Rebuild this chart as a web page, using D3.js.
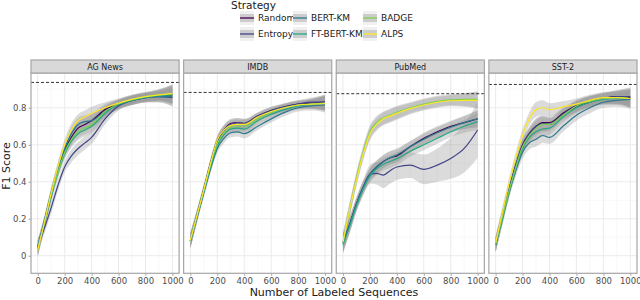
<!DOCTYPE html>
<html>
<head>
<meta charset="utf-8">
<script src="https://cdn.jsdelivr.net/npm/d3@7"></script>
<style>
body{margin:0;background:#fff;}
svg text{font-family:"DejaVu Sans",sans-serif;}
</style>
</head>
<body>
<div id="chart"></div>
<script>
// data
var strategies=["Random","Entropy","BERT-KM","FT-BERT-KM","BADGE","ALPS"];
var colors=["#440154","#414487","#2A788E","#22A884","#7AD151","#FDE725"];
var datasets=["AG News","IMDB","PubMed","SST-2"];
var ceilings=[0.937,0.883,0.876,0.926];
var sizes=[0,50,100,150,200,250,300,350,400,500,600,700,800,900,1000];

var agNews=[
[0.04,0.18,0.33,0.46,0.57,0.64,0.69,0.71,0.73,0.79,0.82,0.84,0.855,0.865,0.87],
[0.05,0.15,0.26,0.38,0.48,0.54,0.58,0.61,0.64,0.74,0.81,0.84,0.855,0.86,0.855],
[0.05,0.19,0.34,0.47,0.58,0.66,0.71,0.725,0.73,0.78,0.815,0.84,0.855,0.86,0.86],
[0.04,0.18,0.32,0.45,0.55,0.62,0.66,0.68,0.70,0.77,0.82,0.84,0.855,0.865,0.87],
[0.04,0.18,0.33,0.45,0.56,0.63,0.67,0.69,0.71,0.78,0.82,0.845,0.86,0.87,0.875],
[0.03,0.18,0.34,0.48,0.60,0.68,0.73,0.75,0.77,0.80,0.825,0.845,0.86,0.87,0.877]];
var imdb=[
[0.08,0.22,0.36,0.50,0.62,0.68,0.715,0.72,0.715,0.755,0.785,0.805,0.82,0.825,0.83],
[0.08,0.22,0.36,0.50,0.62,0.68,0.71,0.72,0.715,0.755,0.785,0.805,0.82,0.83,0.83],
[0.08,0.21,0.34,0.47,0.58,0.635,0.665,0.67,0.66,0.70,0.74,0.775,0.80,0.81,0.815],
[0.08,0.21,0.35,0.48,0.595,0.655,0.685,0.69,0.685,0.73,0.765,0.79,0.81,0.82,0.825],
[0.08,0.22,0.35,0.49,0.605,0.665,0.695,0.70,0.70,0.74,0.775,0.80,0.815,0.82,0.825],
[0.085,0.22,0.36,0.50,0.625,0.68,0.705,0.71,0.71,0.75,0.78,0.80,0.815,0.82,0.823]];
var pubMed=[
[0.07,0.17,0.28,0.37,0.44,0.48,0.51,0.53,0.54,0.59,0.635,0.67,0.70,0.72,0.74],
[0.07,0.17,0.28,0.37,0.44,0.445,0.436,0.46,0.48,0.49,0.467,0.49,0.526,0.58,0.68],
[0.07,0.17,0.28,0.37,0.44,0.48,0.51,0.53,0.545,0.59,0.63,0.665,0.695,0.72,0.74],
[0.06,0.16,0.27,0.36,0.43,0.47,0.495,0.51,0.525,0.565,0.60,0.635,0.67,0.70,0.725],
[0.07,0.25,0.42,0.56,0.67,0.72,0.745,0.76,0.775,0.80,0.82,0.835,0.843,0.845,0.845],
[0.075,0.25,0.41,0.55,0.66,0.71,0.74,0.755,0.77,0.795,0.815,0.83,0.838,0.84,0.84]];
var sst2=[
[0.06,0.21,0.36,0.49,0.60,0.66,0.70,0.72,0.72,0.77,0.81,0.835,0.85,0.86,0.855],
[0.06,0.21,0.36,0.49,0.59,0.66,0.70,0.715,0.71,0.765,0.805,0.83,0.85,0.86,0.86],
[0.06,0.20,0.34,0.46,0.56,0.61,0.63,0.65,0.64,0.70,0.76,0.80,0.83,0.84,0.845],
[0.06,0.20,0.35,0.47,0.58,0.64,0.67,0.685,0.69,0.75,0.80,0.83,0.845,0.85,0.85],
[0.06,0.21,0.35,0.48,0.59,0.65,0.69,0.71,0.71,0.76,0.81,0.835,0.85,0.855,0.85],
[0.07,0.23,0.39,0.53,0.65,0.74,0.79,0.80,0.79,0.805,0.82,0.84,0.855,0.855,0.85]];

// half width of the confidence band
var agBand=[0.04,0.03,0.03,0.03,0.03,0.035,0.035,0.035,0.035,0.03,0.025,0.025,0.025,0.03,0.05];
var imdbBand=[0.04,0.03,0.025,0.025,0.025,0.025,0.025,0.025,0.025,0.02,0.02,0.02,0.02,0.025,0.04];
var pubBand=[0.05,0.04,0.035,0.035,0.035,0.035,0.035,0.035,0.035,0.03,0.03,0.03,0.03,0.035,0.045];
var pubEntropyBand=[0.05,0.04,0.035,0.04,0.05,0.06,0.07,0.07,0.07,0.07,0.08,0.09,0.11,0.13,0.15];
var sstBand=[0.04,0.035,0.03,0.03,0.035,0.035,0.04,0.04,0.035,0.03,0.03,0.03,0.03,0.035,0.05];

var xTicks=[0,200,400,600,800,1000];
var yTicks=[0,0.2,0.4,0.6,0.8];

var allSeries=[agNews,imdb,pubMed,sst2];
var bands=[agBand,imdbBand,pubBand,sstBand];

var svg=d3.select("#chart").append("svg")
.attr("width",640).attr("height",300);

var panelScale=d3.scaleBand()
.domain(datasets)
.range([31,637])
.paddingInner(0.0295);

var yScale=d3.scaleLinear()
.domain([-0.095,0.988])
.range([273.3,73]);

// legend
var legend=svg.append("g");
legend.append("text").text("Strategy")
.attr("x",231).attr("y",8.5).attr("font-size",10.5).attr("fill","#1a1a1a");
var colX=[240,293,363];
strategies.forEach(function(s,i){
  var cx=colX[Math.floor(i/2)], cy=i%2==0?18:34;
  legend.append("rect").attr("x",cx).attr("y",cy-7).attr("width",14).attr("height",14)
  .attr("fill","#f0f0f0");
  legend.append("rect").attr("x",cx).attr("y",cy-4).attr("width",14).attr("height",8)
  .attr("fill","#999").attr("opacity",0.4);
  legend.append("line").attr("x1",cx).attr("x2",cx+14).attr("y1",cy).attr("y2",cy)
  .attr("stroke",colors[i]).attr("stroke-width",1.3);
  legend.append("text").text(s).attr("x",cx+18).attr("y",cy+3.3)
  .attr("font-size",9).attr("fill","#1a1a1a");
});

datasets.forEach(function(name,p){
  var x0=panelScale(name), w=panelScale.bandwidth();
  var xScale=d3.scaleLinear().domain([-50,1050]).range([x0,x0+w]);
  var g=svg.append("g");

  g.append("rect").attr("x",x0).attr("y",73).attr("width",w).attr("height",200.3)
  .attr("fill","#fff");

  // grid
  [100,300,500,700,900].forEach(function(v){
    g.append("line").attr("x1",xScale(v)).attr("x2",xScale(v)).attr("y1",73).attr("y2",273.3)
    .attr("stroke","#f4f4f4").attr("stroke-width",0.6);
  });
  [0.1,0.3,0.5,0.7,0.9].forEach(function(v){
    g.append("line").attr("x1",x0).attr("x2",x0+w).attr("y1",yScale(v)).attr("y2",yScale(v))
    .attr("stroke","#f4f4f4").attr("stroke-width",0.6);
  });
  xTicks.forEach(function(v){
    g.append("line").attr("x1",xScale(v)).attr("x2",xScale(v)).attr("y1",73).attr("y2",273.3)
    .attr("stroke","#ebebeb").attr("stroke-width",1);
  });
  yTicks.forEach(function(v){
    g.append("line").attr("x1",x0).attr("x2",x0+w).attr("y1",yScale(v)).attr("y2",yScale(v))
    .attr("stroke","#ebebeb").attr("stroke-width",1);
  });

  var series=allSeries[p];
  var area=d3.area()
  .x(function(d){return xScale(d.x);})
  .y0(function(d){return yScale(d.y-d.b);})
  .y1(function(d){return yScale(d.y+d.b);})
  .curve(d3.curveMonotoneX);
  var line=d3.line()
  .x(function(d){return xScale(d.x);})
  .y(function(d){return yScale(d.y);})
  .curve(d3.curveMonotoneX);

  series.forEach(function(vals,i){
    var band=(name=="PubMed"&&strategies[i]=="Entropy")?pubEntropyBand:bands[p];
    var pts=vals.map(function(v,k){return {x:sizes[k],y:v,b:band[k]};});
    g.append("path").attr("d",area(pts)).attr("fill","#999").attr("opacity",0.35);
  });
  series.forEach(function(vals,i){
    var pts=vals.map(function(v,k){return {x:sizes[k],y:v};});
    g.append("path").attr("d",line(pts)).attr("fill","none")
    .attr("stroke",colors[i]).attr("stroke-width",1.2);
  });

  g.append("line").attr("x1",x0).attr("x2",x0+w)
  .attr("y1",yScale(ceilings[p])).attr("y2",yScale(ceilings[p]))
  .attr("stroke","#000").attr("stroke-width",0.8).attr("stroke-dasharray","3,2");

  // border and strip
  g.append("rect").attr("x",x0).attr("y",73).attr("width",w).attr("height",200.3)
  .attr("fill","none").attr("stroke","#a6a6a6").attr("stroke-width",1.2);
  g.append("rect").attr("x",x0).attr("y",60).attr("width",w).attr("height",13)
  .attr("fill","#d9d9d9").attr("stroke","#a6a6a6").attr("stroke-width",1.2);
  g.append("text").text(name).attr("x",x0+w/2).attr("y",70)
  .attr("text-anchor","middle").attr("font-size",8).attr("fill","#1a1a1a");

  var xAxis=g.append("g").attr("transform","translate(0,273.3)")
  .call(d3.axisBottom(xScale).tickValues(xTicks).tickSize(2.5).tickPadding(2)
  .tickFormat(d3.format("d")));
  xAxis.select(".domain").remove();
  xAxis.selectAll("line").attr("stroke","#a6a6a6");
  xAxis.selectAll("text").attr("font-size",8.5).attr("fill","#4d4d4d")
  .attr("font-family","DejaVu Sans");

  if(p==0){
    var yAxis=g.append("g").attr("transform","translate("+x0+",0)")
    .call(d3.axisLeft(yScale).tickValues(yTicks).tickSize(2.5).tickPadding(2)
    .tickFormat(function(d){return d==0?"0":d3.format(".1f")(d);}));
    yAxis.select(".domain").remove();
    yAxis.selectAll("line").attr("stroke","#a6a6a6");
    yAxis.selectAll("text").attr("font-size",8.5).attr("fill","#4d4d4d")
    .attr("font-family","DejaVu Sans");
  }
});

svg.append("text").text("Number of Labeled Sequences")
.attr("x",334).attr("y",296).attr("text-anchor","middle")
.attr("font-size",11).attr("fill","#1a1a1a");
svg.append("text").text("F1 Score")
.attr("transform","translate(10,166)rotate(-90)")
.attr("text-anchor","middle").attr("font-size",11).attr("fill","#1a1a1a");
</script>
</body>
</html>
